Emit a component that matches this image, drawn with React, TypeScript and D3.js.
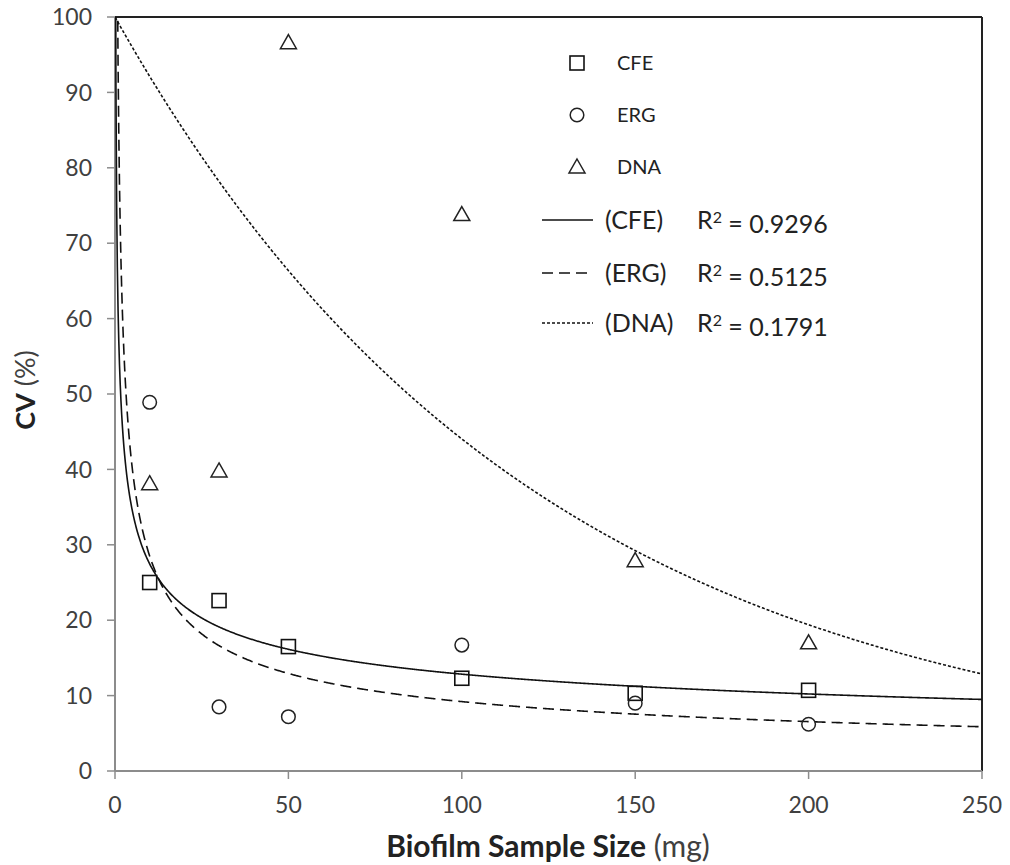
import React from "react";
import * as d3 from "d3";

// ---- Data ----
const sampleSizes = [10, 30, 50, 100, 150, 200];
const cfeValues = [25, 22.6, 16.5, 12.3, 10.3, 10.7];
const ergValues = [48.9, 8.5, 7.2, 16.7, 9.0, 6.2];
const dnaValues = [38.1, 39.8, 96.6, 73.8, 27.9, 17.0];

const xTicks = [0, 50, 100, 150, 200, 250];
const yTicks = [0, 10, 20, 30, 40, 50, 60, 70, 80, 90, 100];

// trendline coefficients
const cfeTrend = { kind: "power", a: 58.7, b: -0.33 };
const ergTrend = { kind: "power", a: 88.3, b: -0.491 };
const dnaTrend = { kind: "exp", a: 100, b: -0.0082 };

const legendLabels = ["CFE", "ERG", "DNA"];
const trendLabels = ["(CFE)", "(ERG)", "(DNA)"];
const r2Values = ["0.9296", "0.5125", "0.1791"];

const W = 1010;
const H = 865;
const M = { left: 115, right: 982, top: 17, bottom: 771 };
const FONT = "Lato, 'Open Sans', sans-serif";

function trendFn(t: { kind: string; a: number; b: number }) {
  return (x: number) => (t.kind === "power" ? t.a * Math.pow(x, t.b) : t.a * Math.exp(t.b * x));
}

export default function App() {
  const x = d3.scaleLinear().domain([0, 250]).range([M.left, M.right]);
  const y = d3.scaleLinear().domain([0, 100]).range([M.bottom, M.top]);

  const xs = d3.range(0, 1200).map((i) => 0.05 + (i / 1199) * (250 - 0.05));
  const line = d3
    .line<[number, number]>()
    .x((d) => x(d[0]))
    .y((d) => y(d[1]));
  const mkPath = (t: any) => {
    const f = trendFn(t);
    const pts: [number, number][] = xs.map((v) => [v, Math.min(f(v), 140)]);
    return line(pts) || "";
  };

  const square = (cx: number, cy: number, k: string) => (
    <rect key={k} x={cx - 7} y={cy - 7} width={14} height={14} fill="none" stroke="#111" strokeWidth={1.6} />
  );
  const circle = (cx: number, cy: number, k: string) => (
    <circle key={k} cx={cx} cy={cy} r={6.8} fill="none" stroke="#222" strokeWidth={1.5} />
  );
  const tri = (cx: number, cy: number, k: string) => (
    <path
      key={k}
      d={`M${cx},${cy - 8} L${cx + 8},${cy + 6} L${cx - 8},${cy + 6} Z`}
      fill="none"
      stroke="#222"
      strokeWidth={1.5}
    />
  );
  const markerFns = [square, circle, tri];
  const lineStyles = [
    { dash: undefined, w: 1.6 },
    { dash: "11,6", w: 1.6 },
    { dash: "3,2", w: 1.6 },
  ];
  const trends = [cfeTrend, ergTrend, dnaTrend];

  const legendX = 577;
  const legendRows = [63, 115, 167, 220, 273, 323];

  return (
    <svg width={W} height={H} style={{ position: "absolute", left: 0, top: 0, background: "#fff" }}>
      <defs>
        <clipPath id="plotclip">
          <rect x={M.left} y={M.top} width={M.right - M.left} height={M.bottom - M.top} />
        </clipPath>
      </defs>
      <rect x={0} y={0} width={W} height={H} fill="#fff" />

      {/* top and right borders */}
      <line x1={M.left} x2={M.right} y1={M.top} y2={M.top} stroke="#222" strokeWidth={2} />
      <line x1={M.right} x2={M.right} y1={M.top} y2={M.bottom} stroke="#222" strokeWidth={2} />

      {/* axes */}
      <line x1={M.left} x2={M.left} y1={M.top} y2={M.bottom} stroke="#8c8c8c" strokeWidth={2} />
      <line x1={M.left} x2={M.right} y1={M.bottom} y2={M.bottom} stroke="#8c8c8c" strokeWidth={2} />
      {yTicks.map((t) => (
        <g key={"y" + t}>
          <line x1={M.left - 8} x2={M.left} y1={y(t)} y2={y(t)} stroke="#8c8c8c" strokeWidth={1.5} />
          <text x={92} y={y(t)} dy="0.36em" textAnchor="end" fontFamily={FONT} fontSize={23} fill="#404040">
            {t}
          </text>
        </g>
      ))}
      {xTicks.map((t) => (
        <g key={"x" + t}>
          <line x1={x(t)} x2={x(t)} y1={M.bottom} y2={M.bottom + 8} stroke="#8c8c8c" strokeWidth={1.5} />
          <text x={x(t)} y={813} textAnchor="middle" fontFamily={FONT} fontSize={23} fill="#404040">
            {t}
          </text>
        </g>
      ))}

      {/* trendlines */}
      <g clipPath="url(#plotclip)">
        {trends.map((t, i) => (
          <path
            key={"tr" + i}
            d={mkPath(t)}
            fill="none"
            stroke="#111"
            strokeWidth={lineStyles[i].w}
            strokeDasharray={lineStyles[i].dash}
          />
        ))}
      </g>

      {/* data points */}
      {sampleSizes.map((s, i) => square(x(s), y(cfeValues[i]), "c" + i))}
      {sampleSizes.map((s, i) => circle(x(s), y(ergValues[i]), "e" + i))}
      {sampleSizes.map((s, i) => tri(x(s), y(dnaValues[i]), "d" + i))}

      {/* legend */}
      {legendLabels.map((l, i) => (
        <g key={"lg" + i}>
          {markerFns[i](legendX, legendRows[i], "lm" + i)}
          <text x={617} y={legendRows[i]} dy="0.36em" fontFamily={FONT} fontSize={20} fill="#222">
            {l}
          </text>
        </g>
      ))}
      {trendLabels.map((l, i) => (
        <g key={"lt" + i}>
          <line
            x1={542}
            x2={593}
            y1={legendRows[3 + i]}
            y2={legendRows[3 + i]}
            stroke="#111"
            strokeWidth={lineStyles[i].w}
            strokeDasharray={lineStyles[i].dash}
          />
          <text x={605} y={legendRows[3 + i]} dy="0.36em" fontFamily={FONT} fontSize={25} fill="#222">
            {l}
          </text>
          <text x={697} y={legendRows[3 + i]} dy="0.36em" fontFamily={FONT} fontSize={25} fill="#222">
            R<tspan dy="-0.4em" fontSize={16}>2</tspan>
            <tspan dy="0.4em"> = {r2Values[i]}</tspan>
          </text>
        </g>
      ))}

      {/* axis titles */}
      <text x={548} y={857} textAnchor="middle" fontFamily={FONT} fontSize={30} fill="#222">
        <tspan fontWeight="bold">Biofilm Sample Size</tspan>
        <tspan fill="#404040"> (mg)</tspan>
      </text>
      <text
        transform={`translate(35,390) rotate(-90)`}
        textAnchor="middle"
        fontFamily={FONT}
        fontSize={27}
        fill="#222"
      >
        <tspan fontWeight="bold">CV</tspan>
        <tspan fill="#404040"> (%)</tspan>
      </text>
    </svg>
  );
}
